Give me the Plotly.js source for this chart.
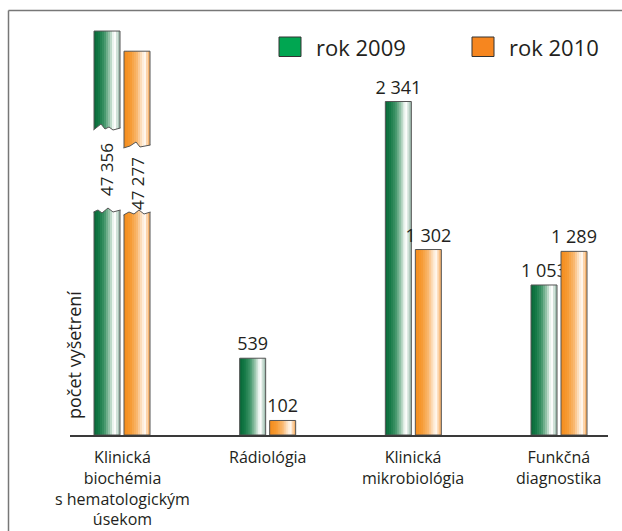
<!DOCTYPE html>
<html><head><meta charset="utf-8">
<script src="https://cdn.plot.ly/plotly-3.0.1.min.js"></script>
<style>html,body{margin:0;padding:0;background:#fff}#chart{width:622px;height:531px}</style>
</head><body><div id="chart"></div>
<script>
// ---- data ----
const categories = [
  ["Klinická", "biochémia", "s hematologickým", "úsekom"],
  ["Rádiológia"],
  ["Klinická", "mikrobiológia"],
  ["Funkčná", "diagnostika"]
];
const seriesNames = ["rok 2009", "rok 2010"];
const values2009 = [47356, 539, 2341, 1053];
const values2010 = [47277, 102, 1302, 1289];
const yTitle = "počet vyšetrení";
const brokenCategory = 0;   // category drawn with a broken axis

// ---- geometry ----
const W = 622, H = 531, L = 70, R = 14, T = 29, B = 96;
const plotW = W - L - R, plotH = H - T - B, baseY = H - B;
const firstCenter = 122, catStep = 145.67;
const u = catStep; // px per category unit
const xr = [-(firstCenter - L) / u, 3 + (608 - (firstCenter + 3 * catStep)) / u];
const px2x = p => (p - L) / plotW;
const px2y = p => (baseY - p) / plotH;
const FONT = '"Open Sans", "Noto Sans", sans-serif';
const TXT = '#231f20';

function fmt(v) { return String(v).replace(/\B(?=(\d{3})+(?!\d))/g, ' '); }

function lerpColor(stops, t) {
  for (let i = 0; i < stops.length - 1; i++) {
    const [t0, c0] = stops[i], [t1, c1] = stops[i + 1];
    if (t >= t0 && t <= t1) {
      const f = (t - t0) / (t1 - t0 || 1);
      const a = [1, 3, 5].map(k => parseInt(c0.substr(k, 2), 16));
      const b = [1, 3, 5].map(k => parseInt(c1.substr(k, 2), 16));
      return 'rgb(' + a.map((v, j) => Math.round(v + (b[j] - v) * f)).join(',') + ')';
    }
  }
  return stops[stops.length - 1][1];
}
const greenStops = [[0, '#086637'], [0.18, '#137845'], [0.4, '#3f9468'], [0.6, '#9cc7ae'], [0.74, '#eef6f1'], [0.8, '#ffffff'], [0.9, '#c8dcd1'], [1, '#93b4a5']];
const orangeStops = [[0, '#f48c1c'], [0.25, '#f69a32'], [0.5, '#f9b870'], [0.7, '#fde8d0'], [0.8, '#fff9f2'], [0.9, '#fbcf9f'], [1, '#f4a452']];

const barW = 26, stripes = 13, stripeW = barW / stripes;
const startPx = [-28, 2];                // bar left edge relative to category center
const stopsBySeries = [greenStops, orangeStops];
const seriesValues = [values2009, values2010];

const traces = [];
function addBars(vals, s, yaxis, withText) {
  for (let i = 0; i < stripes; i++) {
    const w = (i === stripes - 1) ? stripeW : stripeW + 0.6;
    traces.push({
      type: 'bar', x: [0, 1, 2, 3], y: vals, xaxis: 'x', yaxis: yaxis,
      width: w / u, offset: (startPx[s] + i * stripeW) / u,
      marker: { color: lerpColor(stopsBySeries[s], (i + 0.5) / stripes), line: { width: 0 } },
      showlegend: false, hoverinfo: 'skip'
    });
  }
  const t = {
    type: 'bar', x: [0, 1, 2, 3], y: vals, xaxis: 'x', yaxis: yaxis,
    width: barW / u, offset: startPx[s] / u, name: seriesNames[s],
    marker: { color: 'rgba(0,0,0,0)', line: { width: 1, color: '#555' } },
    showlegend: false, hoverinfo: 'skip'
  };
  if (withText) {
    Object.assign(t, {
      texttemplate: '%{y:,}', textposition: 'outside', constraintext: 'none', textangle: 0,
      cliponaxis: false, textfont: { family: FONT, size: 18, color: TXT }
    });
  }
  traces.push(t);
}
for (let s = 0; s < 2; s++) {
  const main = seriesValues[s].map((v, i) => i === brokenCategory ? null : v);
  const broken = seriesValues[s].map((v, i) => i === brokenCategory ? v : null);
  addBars(main, s, 'y', true);
  addBars(broken, s, 'y2', false);   // upper piece
  addBars(broken, s, 'y3', false);   // lower piece
}

// ---- decorations ----
function pathPx(pts, close) {
  return pts.map((p, i) => (i ? 'L' : 'M') + px2x(p[0]).toFixed(5) + ',' + px2y(p[1]).toFixed(5)).join(' ') + (close ? ' Z' : '');
}
const zigs = [
  { edge: [[93.5, 130], [101, 124], [105, 129], [109, 127], [113, 130], [120.5, 128]], cut: 153 },
  { edge: [[123.5, 148], [130, 146], [136, 142], [140, 147], [150.5, 145]], cut: 153 },
  { edge: [[93.5, 212], [98, 210], [102, 213], [108, 208], [113, 212], [120.5, 210]], cut: 205 },
  { edge: [[123.5, 215], [129, 212], [134, 214], [139, 210], [144, 214], [150.5, 212]], cut: 205 }
];
const shapes = [];
zigs.forEach(z => {
  const e = z.edge;
  const poly = [[e[0][0] - 1, z.cut], [e[0][0] - 1, e[0][1]], ...e, [e[e.length - 1][0] + 1, e[e.length - 1][1]], [e[e.length - 1][0] + 1, z.cut]];
  shapes.push({ type: 'path', xref: 'paper', yref: 'paper', path: pathPx(poly, true), fillcolor: '#ffffff', line: { width: 0 } });
  shapes.push({ type: 'path', xref: 'paper', yref: 'paper', path: pathPx(e, false), line: { width: 1, color: '#555' } });
});
// frame
shapes.push({ type: 'line', xref: 'paper', yref: 'paper', x0: px2x(8.5), x1: px2x(8.5), y0: px2y(10.5), y1: px2y(H + 2), line: { color: '#777', width: 1.5 } });
shapes.push({ type: 'line', xref: 'paper', yref: 'paper', x0: px2x(8.5), x1: px2x(W + 2), y0: px2y(10.5), y1: px2y(10.5), line: { color: '#777', width: 1.5 } });
// legend swatches
const legendSw = [[279, '#00a651'], [472, '#f6861f']];
legendSw.forEach(([x, c]) => shapes.push({ type: 'rect', xref: 'paper', yref: 'paper', x0: px2x(x), x1: px2x(x + 22), y0: px2y(56.5), y1: px2y(37), fillcolor: c, line: { color: '#333', width: 1 } }));

const annotations = [];
[314, 507].forEach((x, s) => annotations.push({ xref: 'paper', yref: 'paper', x: px2x(x), y: px2y(46.5), xanchor: 'left', yanchor: 'middle', text: seriesNames[s], showarrow: false, font: { family: FONT, size: 22, color: TXT } }));
// broken-bar value labels
[[107, 170], [137, 184]].forEach(([x, y], s) => annotations.push({ xref: 'paper', yref: 'paper', x: px2x(x), y: px2y(y), xanchor: 'center', yanchor: 'middle', textangle: -90, text: fmt(seriesValues[s][brokenCategory]), showarrow: false, font: { family: FONT, size: 17, color: TXT } }));
// category labels
categories.forEach((lines, i) => annotations.push({ xref: 'x', yref: 'paper', x: i, y: px2y(444), xanchor: 'center', yanchor: 'top', align: 'center', text: lines.join('<br>'), showarrow: false, font: { family: FONT, size: 16, color: TXT } }));
// y title
annotations.push({ xref: 'paper', yref: 'paper', x: px2x(74), y: px2y(355), xanchor: 'center', yanchor: 'middle', textangle: -90, text: yTitle, showarrow: false, font: { family: FONT, size: 18, color: TXT } });

const layout = {
  width: W, height: H, margin: { l: L, r: R, t: T, b: B, pad: 0 },
  paper_bgcolor: '#ffffff', plot_bgcolor: 'rgba(0,0,0,0)',
  barmode: 'overlay', separators: ', ', showlegend: false,
  font: { family: FONT, color: TXT },
  xaxis: { range: xr, showticklabels: false, ticks: '', showgrid: false, zeroline: false, showline: true, linecolor: '#3a3a3a', linewidth: 2, anchor: 'y', fixedrange: true },
  yaxis: { domain: [0, 1], range: [0, 2850], visible: false, fixedrange: true },
  yaxis2: { domain: [px2y(153), 1], range: [46878, 47364], visible: false, anchor: 'x', fixedrange: true },
  yaxis3: { domain: [0, px2y(205)], range: [0, 1000], visible: false, anchor: 'x', fixedrange: true },
  shapes: shapes, annotations: annotations
};
Plotly.newPlot('chart', traces, layout, { staticPlot: true, displayModeBar: false });
</script>
</body></html>
